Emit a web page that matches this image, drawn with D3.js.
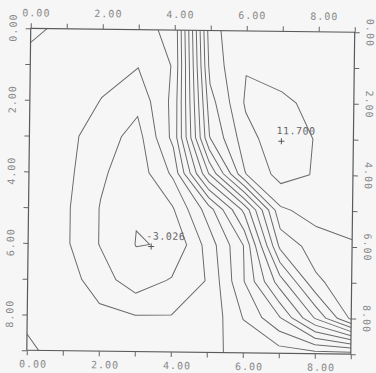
<!DOCTYPE html>
<html>
<head>
<meta charset="utf-8">
<script src="https://cdn.jsdelivr.net/npm/d3@7"></script>
<style>
  html, body { margin: 0; padding: 0; background: #f6f6f7; }
  svg { display: block; }
</style>
</head>
<body>
<div id="chart"></div>
<script>
// field values on the 10x10 grid, one array per row (y = 0 at top ... 9 at bottom), x = 0..9
const row0 = [ 0.30, -0.35, -0.55, -0.35,  0.30,  9.80, 10.50, 10.40, 10.30, 10.20];
const row1 = [-0.45, -0.60, -0.80, -0.95,  0.10,  9.40, 10.95, 10.10, 10.30, 10.20];
const row2 = [-0.45, -0.70, -1.02, -1.70,  0.30,  8.60, 11.15, 11.40, 10.40, 10.30];
const row3 = [-0.40, -0.70, -1.50, -2.40,  0.30,  7.95, 10.60, 11.70, 10.90, 10.50];
const row4 = [-0.40, -0.70, -1.85, -2.60, -0.80,  5.05,  9.95, 11.40, 10.90, 10.50];
const row5 = [-0.40, -0.80, -2.05, -2.95, -2.10,  0.50,  4.30,  9.83, 10.40, 10.40];
const row6 = [-0.50, -0.80, -2.05, -3.03, -2.95, -0.60,  2.05,  8.25,  9.50,  9.90];
const row7 = [-0.35, -0.49, -1.51, -2.60, -1.90, -0.93,  1.95,  5.50,  8.80,  9.60];
const row8 = [-0.30, -0.50, -0.75, -0.97, -0.97, -0.80,  1.05,  2.90,  6.10,  9.20];
const row9 = [ 0.25, -0.51, -0.70, -0.80, -0.60, -0.30,  0.35,  0.50,  0.60,  0.50];

const levels = [-3, -2, -1, 0, 1, 2, 3, 4, 5, 6, 7, 8, 9, 10, 11];
const ticks = [0, 1, 2, 3, 4, 5, 6, 7, 8, 9];

// min / max markers
const markX = [7.0, 3.42];
const markY = [3.07, 6.06];
const markText = ['11.700', '-3.026'];

const W = 376, H = 373;
const frame = { left: 28.75, right: 352.75, top: 30.25, bottom: 352.25 };
const tilt = 0.7; // the scanned page is a little rotated

const grid = [row0, row1, row2, row3, row4, row5, row6, row7, row8, row9];
const nx = grid[0].length, ny = grid.length;

const x = d3.scaleLinear().domain([0, 9]).range([frame.left, frame.right]);
const y = d3.scaleLinear().domain([0, 9]).range([frame.top, frame.bottom]);

const svg = d3.select('#chart').append('svg')
  .attr('width', W)
  .attr('height', H);

svg.append('rect').attr('width', W).attr('height', H).attr('fill', '#f6f6f7');

const cx = (frame.left + frame.right) / 2, cy = (frame.top + frame.bottom) / 2;
const g = svg.append('g').attr('transform', `rotate(${tilt},${cx},${cy})`);

svg.append('defs').append('clipPath').attr('id', 'plotArea')
  .append('rect')
  .attr('x', x(0)).attr('y', y(0))
  .attr('width', x(9) - x(0)).attr('height', y(9) - y(0));

// contours: pad one copy of the edge values all round so that lines meet the frame
const padded = [];
for (let j = -1; j <= ny; j++) {
  for (let i = -1; i <= nx; i++) {
    const jj = Math.max(0, Math.min(ny - 1, j));
    const ii = Math.max(0, Math.min(nx - 1, i));
    padded.push(grid[jj][ii]);
  }
}
const contours = d3.contours().size([nx + 2, ny + 2]).thresholds(levels)(padded);

// grid cell centre (i + 1.5) is the sample at x = i
const ring = d3.line()
  .x(p => x(p[0] - 1.5))
  .y(p => y(p[1] - 1.5));

const lines = g.append('g').attr('clip-path', 'url(#plotArea)');
contours.forEach(c => {
  c.coordinates.forEach(poly => {
    poly.forEach(r => {
      lines.append('path')
        .attr('d', ring(r))
        .attr('fill', 'none')
        .attr('stroke', '#6a6a6a')
        .attr('stroke-width', 1);
    });
  });
});

// frame
g.append('rect')
  .attr('x', x(0)).attr('y', y(0))
  .attr('width', x(9) - x(0)).attr('height', y(9) - y(0))
  .attr('fill', 'none')
  .attr('stroke', '#5a5a5a')
  .attr('stroke-width', 1.2);

// axes
const fmt = d => d % 2 === 0 ? d.toFixed(2) : '';
function styleAxis(sel) {
  sel.select('.domain').remove();
  sel.attr('font-family', "'DejaVu Sans Mono', monospace").attr('font-size', 10);
  sel.selectAll('.tick line').attr('stroke', '#666');
  sel.selectAll('.tick text').attr('fill', '#8a8a8a').attr('letter-spacing', 1);
}

g.append('g')
  .attr('transform', `translate(0,${y(0)})`)
  .call(d3.axisTop(x).tickValues(ticks).tickFormat(fmt).tickSize(5).tickPadding(7))
  .call(styleAxis)
  .selectAll('.tick text').attr('x', 5);

g.append('g')
  .attr('transform', `translate(0,${y(9)})`)
  .call(d3.axisBottom(x).tickValues(ticks).tickFormat(fmt).tickSize(5).tickPadding(5))
  .call(styleAxis)
  .selectAll('.tick text').attr('x', 6);

g.append('g')
  .attr('transform', `translate(${x(0)},0)`)
  .call(d3.axisLeft(y).tickValues(ticks).tickFormat(fmt).tickSize(5))
  .call(styleAxis)
  .selectAll('.tick text')
  .attr('x', 0).attr('dy', 0)
  .attr('text-anchor', 'middle')
  .attr('transform', 'translate(-14,-1) rotate(-90)');

g.append('g')
  .attr('transform', `translate(${x(9)},0)`)
  .call(d3.axisRight(y).tickValues(ticks).tickFormat(fmt).tickSize(5))
  .call(styleAxis)
  .selectAll('.tick text')
  .attr('x', 0).attr('dy', 0)
  .attr('text-anchor', 'middle')
  .attr('transform', 'translate(12,0) rotate(90)');

// extreme markers
markX.forEach((mx, k) => {
  const px = x(mx), py = y(markY[k]);
  g.append('path')
    .attr('d', `M${px - 3},${py}H${px + 3}M${px},${py - 3}V${py + 3}`)
    .attr('stroke', '#555')
    .attr('stroke-width', 1);
  g.append('text')
    .attr('x', px - 5)
    .attr('y', py - 7)
    .attr('font-family', "'DejaVu Sans Mono', monospace")
    .attr('font-size', 10)
    .attr('letter-spacing', 0.5)
    .attr('fill', '#666')
    .text(markText[k]);
});
</script>
</body>
</html>
